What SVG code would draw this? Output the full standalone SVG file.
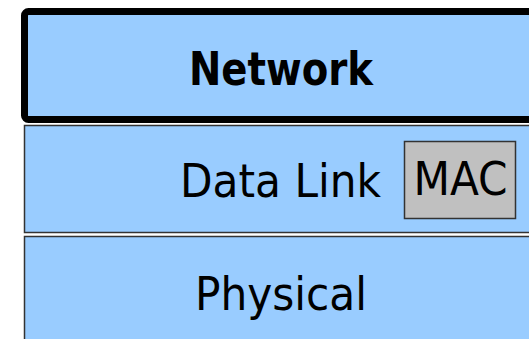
<svg xmlns="http://www.w3.org/2000/svg" width="529" height="339" viewBox="0 0 529 339">
<style>
.layer{fill:#99ccff;stroke:#333333;stroke-width:1.5}
.lbl{font-family:"DejaVu Sans Condensed","DejaVu Sans",sans-serif;font-stretch:condensed;font-size:47px;fill:#000000}
.mac{fill:#c0c0c0;stroke:#333333;stroke-width:1.5}
</style>
<rect width="529" height="339" fill="#ffffff"/>
<g id="physical">
<rect class="layer" x="24.5" y="236.5" width="520" height="120"/>
<text class="lbl" x="281" y="310" text-anchor="middle" font-size="49">Physical</text>
</g>
<g id="datalink">
<rect class="layer" x="24.5" y="125.5" width="520" height="107"/>
<text class="lbl" x="381" y="197" text-anchor="end">Data Link</text>
</g>
<g id="mac">
<rect class="mac" x="404.5" y="141.5" width="111" height="77"/>
<text class="lbl" x="460.5" y="195" text-anchor="middle" font-size="38">MAC</text>
</g>
<g id="network">
<rect x="24.5" y="11.5" width="520" height="108" rx="4" fill="#99ccff" stroke="#000000" stroke-width="7"/>
<text class="lbl" x="281" y="85" text-anchor="middle" font-weight="bold" font-size="43" textLength="184" lengthAdjust="spacingAndGlyphs">Network</text>
</g>
<g id="connectors"/>
</svg>
